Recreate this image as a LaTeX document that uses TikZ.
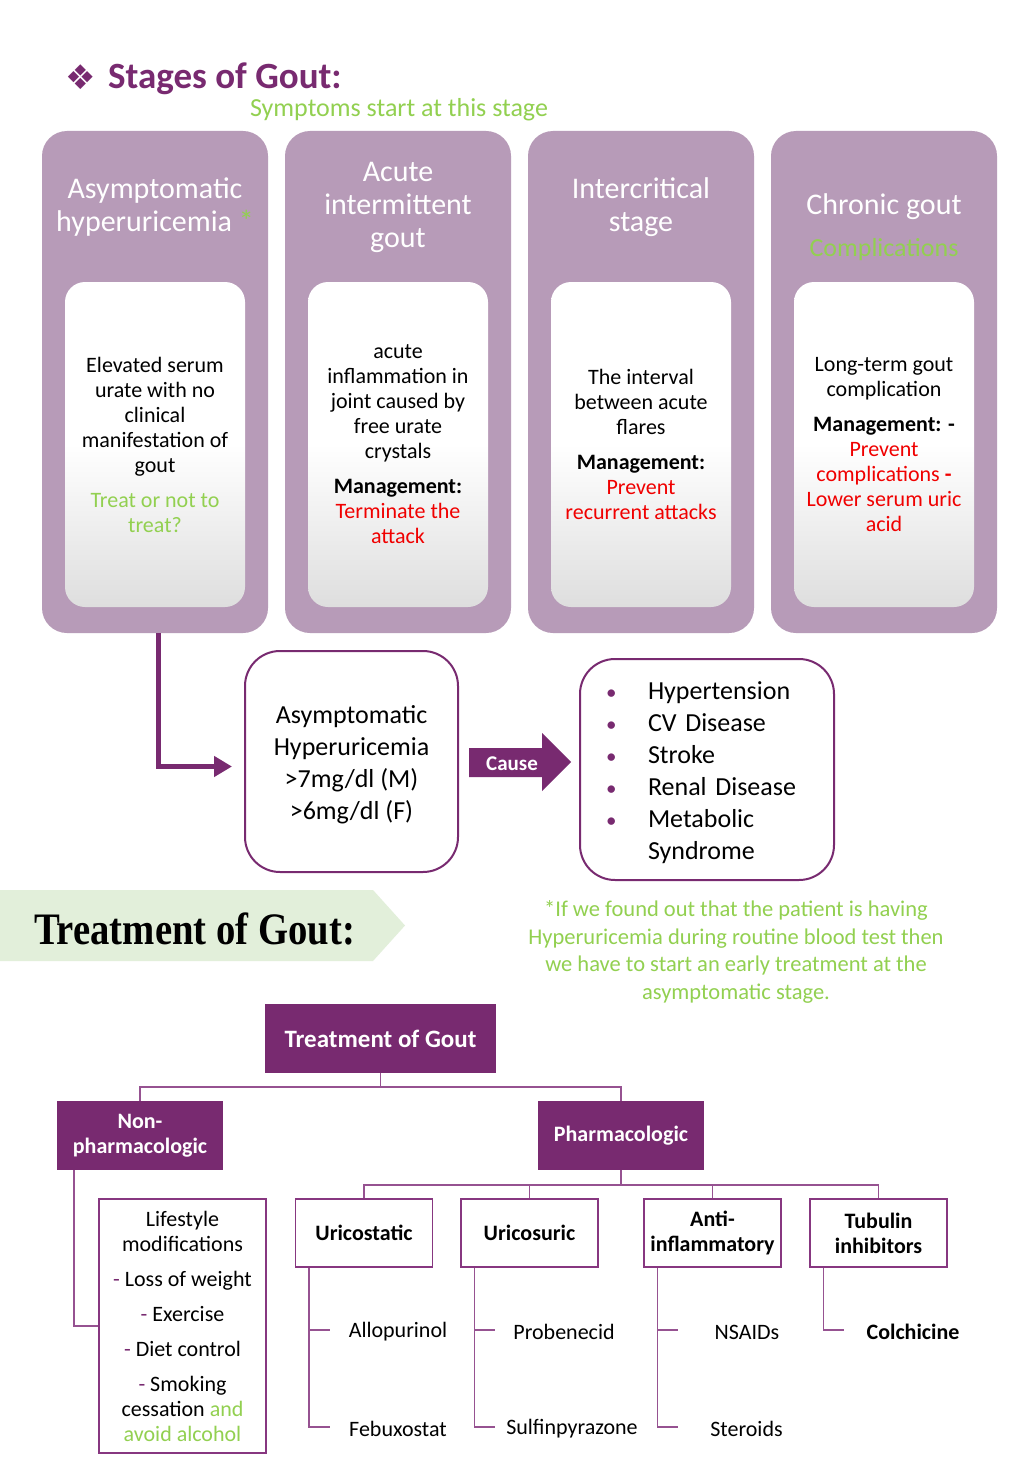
\documentclass[tikz,border=0pt]{standalone}
\usepackage{fontspec}
\setmainfont{Carlito}
\newfontfamily\symfont{DejaVu Sans}
\newfontfamily\bannerfont{Liberation Serif}[FakeStretch=0.86]
\usetikzlibrary{positioning,arrows.meta}

\definecolor{gpurple}{RGB}{120,42,112}
\definecolor{cardfill}{RGB}{183,155,184}
\definecolor{lgreen}{RGB}{146,208,80}
\definecolor{bannerfill}{RGB}{226,239,218}
\definecolor{treeline}{RGB}{150,82,145}
\definecolor{boxline}{RGB}{135,55,128}
\definecolor{mred}{RGB}{240,0,0}

\newcommand{\riskdot}{\makebox[43pt][l]{\hspace*{1pt}\textcolor{gpurple}{\fontsize{21}{21}\selectfont\textbullet}}}

\tikzset{
  card/.style={fill=cardfill, rounded corners=25pt, minimum width=226pt, minimum height=502pt},
  inbox/.style={rounded corners=20pt, minimum width=180pt, minimum height=325pt, inner sep=0pt,
    top color=white, bottom color=black!13, middle color=white,
    align=center, font=\fontsize{22}{25}\selectfont},
  head/.style={text=white, align=center, font=\fontsize{30}{33}\selectfont},
  roundbox/.style={draw=gpurple, line width=2pt, fill=white, rounded corners=35pt, font=\fontsize{26}{32}\selectfont},
  darkbox/.style={fill=gpurple, text=white, align=center, font=\bfseries\fontsize{22}{25}\selectfont},
  drugbox/.style={draw=boxline, line width=1.5pt, fill=white, inner xsep=2pt, minimum width=137pt, minimum height=68pt,
    align=center, font=\bfseries\fontsize{22}{25}\selectfont},
  drug/.style={inner sep=0pt, font=\fontsize{22}{25}\selectfont},
  branch/.style={draw=treeline, line width=1.5pt},
}

\begin{document}
\begin{tikzpicture}[x=1pt, y=1pt]

		\useasboundingbox (0,0) rectangle (1024,-1479);
		\fill[white] (0,0) rectangle (1024,-1479);

		% title
		\node[text=gpurple, font=\symfont\fontsize{34}{34}\selectfont] (star) at (81,-77) {❖};
		\node[anchor=west, inner sep=0pt, text=gpurple, font=\bfseries\fontsize{37}{40}\selectfont] (title) at (108,-79) {Stages of Gout:};
		\node[text=lgreen, font=\fontsize{26}{30}\selectfont] (sympt) at (399,-110) {Symptoms start at this stage};

		% stage cards
		\foreach \i / \cx in {1/155, 2/398, 3/641, 4/884} {
		\node[card] (c\i) at (\cx, -382) {};
		}

		\node[head] (h1) at (155,-207) {Asymptomatic\\hyperuricemia \textcolor{lgreen}{*}};
		\node[head] (h2) at (398,-207) {Acute\\intermittent\\gout};
		\node[head] (h3) at (641,-207) {Intercritical\\stage};
		\node[head] (h4) at (884,-207) {Chronic gout};
		\node[head, text=lgreen, font=\fontsize{26}{30}\selectfont] (h4b) at (884,-250) {Complications};

		\node[inbox] (b1) at (155,-444.5) {Elevated serum\\urate with no\\clinical\\manifestation of\\gout\\[10pt]
		\textcolor{lgreen}{Treat or not to}\\\textcolor{lgreen}{treat?}};
		\node[inbox] (b2) at (398,-444.5) {acute\\inflammation in\\joint caused by\\free urate\\crystals\\[10pt]
		\textbf{Management:}\\\textcolor{mred}{Terminate the}\\\textcolor{mred}{attack}};
		\node[inbox] (b3) at (641,-444.5) {The interval\\between acute\\flares\\[10pt]
		\textbf{Management:}\\\textcolor{mred}{Prevent}\\\textcolor{mred}{recurrent attacks}};
		\node[inbox] (b4) at (884,-444.5) {Long-term gout\\complication\\[10pt]
		\textbf{Management: -}\\\textcolor{mred}{Prevent}\\\textcolor{mred}{complications \textbf{-}}\\\textcolor{mred}{Lower serum uric}\\\textcolor{mred}{acid}};

		% hyperuricemia and its risks
		\node[roundbox, minimum width=213pt, minimum height=221pt, align=center] (hyper) at (351.5,-761.5)
		{\rule{0pt}{24pt}Asymptomatic\\Hyperuricemia\\>7mg/dl (M)\\>6mg/dl (F)};
		\node[roundbox, minimum width=254pt, minimum height=221pt, text width=204pt, align=left] (risk) at (707,-769.5)
		{\rule{0pt}{24pt}\riskdot Hypertension\\
		 \riskdot CV Disease\\
		 \riskdot Stroke\\
		 \riskdot Renal Disease\\
		 \riskdot Metabolic\\
		 \hspace*{43pt}Syndrome};

		\draw[gpurple, line width=5pt, -{Triangle[length=18pt, width=20pt]}] ([xshift=3pt]c1.south) |- ([xshift=-12pt, yshift=-5pt]hyper.west);

		\fill[gpurple] (469,-748) -- (542,-748) -- (542,-733) -- (571,-762) -- (542,-791) -- (542,-777) -- (469,-777) -- cycle;
		\node[text=white, font=\bfseries\fontsize{21}{24}\selectfont] (cause) at (512,-764) {Cause};

		% treatment banner
		\fill[bannerfill] (0,-890) -- (373,-890) -- (405,-925.5) -- (373,-961) -- (0,-961) -- cycle;
		\node[font=\bannerfont\bfseries\fontsize{45}{50}\selectfont] (banner) at (194.5,-929) {Treatment of Gout:};
		\node[text=lgreen, align=center, font=\fontsize{22.5}{27.5}\selectfont] (note) at (736,-952)
		{*If we found out that the patient is having\\Hyperuricemia during routine blood test then\\we have to start an early treatment at the\\asymptomatic stage.};

		% treatment tree
		\node[darkbox, minimum width=231pt, minimum height=69pt, font=\bfseries\fontsize{25}{28}\selectfont] (root) at (380.5,-1038.5) {Treatment of Gout};
		\node[darkbox, minimum width=166pt, minimum height=69pt] (nonph) at (140,-1135.5) {Non-\\pharmacologic};
		\node[darkbox, minimum width=166pt, minimum height=69pt] (pharm) at (621,-1135.5) {Pharmacologic};

		\foreach \nm / \cx / \txt in {ustat/364/Uricostatic, usur/529.5/Uricosuric, antiinf/712.5/{Anti-\\inflammatory}, tubul/878.5/{Tubulin\\inhibitors}} {
		\node[drugbox] (\nm) at (\cx, -1233) {\txt};
		}

		\node[drugbox, font=\fontsize{22}{25}\selectfont, minimum width=167pt, minimum height=254pt] (life) at (182.5,-1326)
		{Lifestyle\\modifications\\[10pt]
		 \textcolor{gpurple}{-} Loss of weight\\[10pt]
		 \textcolor{gpurple}{-} Exercise\\[10pt]
		 \textcolor{gpurple}{-} Diet control\\[10pt]
		 \textcolor{gpurple}{-} Smoking\\cessation \textcolor{lgreen}{and}\\\textcolor{lgreen}{avoid alcohol}};

		\foreach \nm / \cx / \cy / \txt in {allo/398/1332/Allopurinol, febu/398/1429/Febuxostat, prob/564/1332/Probenecid, sulf/572/1429/Sulfinpyrazone, nsaid/747/1332/NSAIDs, ster/746.5/1429/Steroids} {
		\node[drug] (\nm) at (\cx, -\cy) {\txt};
		}
		\node[drug, font=\bfseries\fontsize{22}{25}\selectfont] (colch) at (913,-1332) {Colchicine};

		\draw[branch] (root.south) -- ++(0,-14) -| (nonph.north);
		\draw[branch] (root.south) -- ++(0,-14) -| (pharm.north);
		\foreach \nm in {ustat, usur, antiinf, tubul} {
		\draw[branch] (pharm.south) -- ++(0,-15) -| (\nm.north);
		}
		\draw[branch] ([xshift=17pt]nonph.south west) |- (life.west);

		\foreach \p / \l in {ustat/allo, ustat/febu, usur/prob, usur/sulf, antiinf/nsaid, antiinf/ster, tubul/colch} {
		\draw[branch] ([xshift=14pt]\p.south west) |- ([xshift=35pt, yshift=2pt]\p.south west |- \l);
		}

	\end{tikzpicture}
\end{document}
